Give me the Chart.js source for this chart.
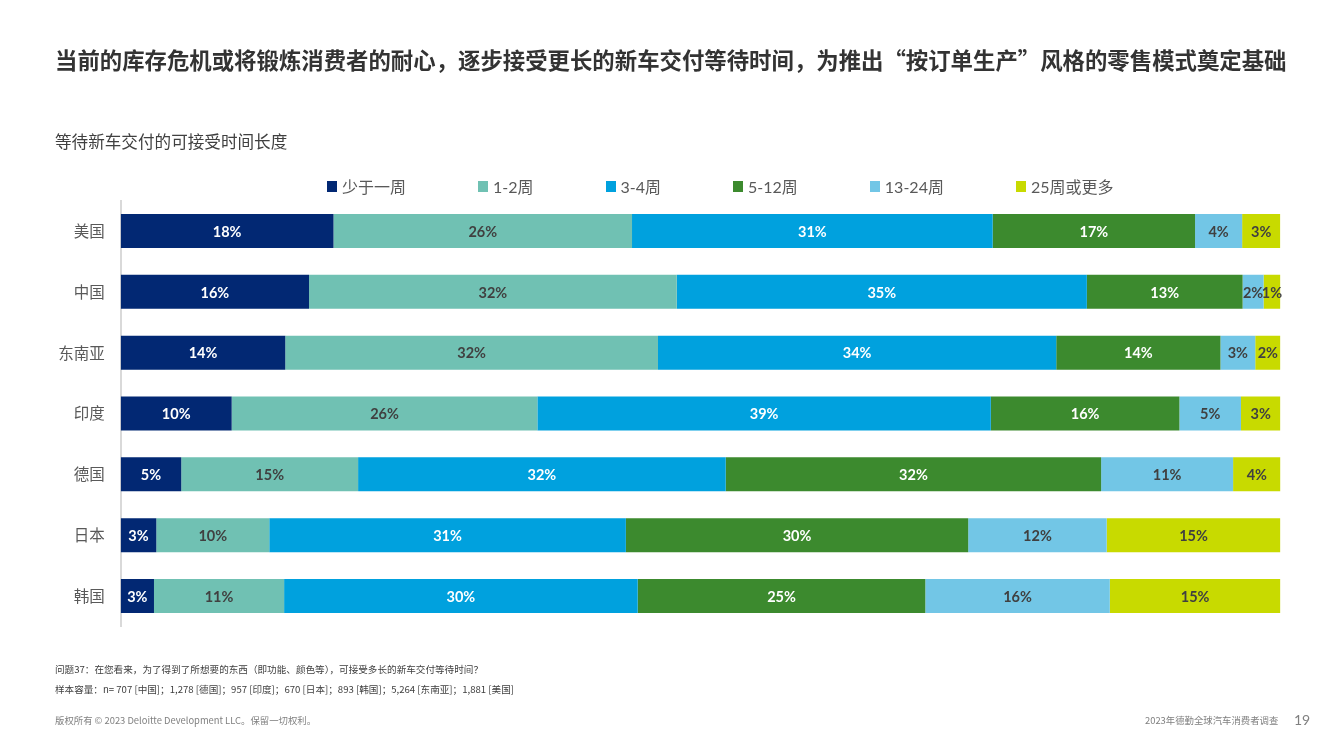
<!DOCTYPE html>
<html lang="zh-CN">
<head>
<meta charset="utf-8">
<script src="https://cdn.jsdelivr.net/npm/chart.js@4/dist/chart.umd.min.js"></script>
<style>
body{margin:0;background:#fff;font-family:"Noto Sans CJK SC",sans-serif}
#page{position:relative;width:1343px;height:750px;overflow:hidden}
#wrap{position:absolute;left:0;top:0;width:1343px;height:750px}
.txt{position:absolute;white-space:nowrap;line-height:1}
#title{left:55px;top:48px;font-size:22.4px;font-weight:700;color:#333}
#sub{left:55px;top:133px;font-size:16.6px;color:#404040}
#legend{position:absolute;left:327px;top:174px;display:flex;gap:72px}
.li{display:flex;align-items:center;font-family:Lato,"Noto Sans CJK SC",sans-serif;font-size:16px;color:#595959}
.li span{display:inline-block;width:10px;height:11px;margin-right:5px}
.note{left:55px;font-size:9.6px;color:#404040}
.foot{font-size:9.4px;color:#808080}
</style>
</head>
<body>
<div id="page">
<div id="wrap"><canvas id="chart"></canvas></div>
<div class="txt" id="title">当前的库存危机或将锻炼消费者的耐心，逐步接受更长的新车交付等待时间，为推出“按订单生产”风格的零售模式奠定基础</div>
<div class="txt" id="sub">等待新车交付的可接受时间长度</div>
<div id="legend"></div>
<div class="txt note" style="top:665px">问题37：在您看来，为了得到了所想要的东西（即功能、颜色等），可接受多长的新车交付等待时间？</div>
<div class="txt note" style="top:685px">样本容量：n= 707 [中国]；1,278 [德国]；957 [印度]；670 [日本]；893 [韩国]；5,264 [东南亚]；1,881 [美国]</div>
<div class="txt foot" style="left:55px;top:716px">版权所有 © 2023 Deloitte Development LLC。保留一切权利。</div>
<div class="txt foot" style="left:1145px;top:716px">2023年德勤全球汽车消费者调查</div>
<div class="txt" style="left:1294px;top:713px;font-size:14px;color:#808080;font-family:Lato,sans-serif">19</div>
</div>
<script>
const countries=["美国","中国","东南亚","印度","德国","日本","韩国"]
const seriesNames=["少于一周","1-2周","3-4周","5-12周","13-24周","25周或更多"]
const seriesColors=["#022873","#70C1B3","#00A1DE","#3C8A2E","#72C6E6","#C8DA00"]
const labelColors=["#fff","#404040","#fff","#fff","#404040","#404040"]

// share of respondents, %, per country (same order as countries)
const lessThanWeek=[18.35,16.24,14.19,9.57,5.22,3.07,2.87]
const oneToTwo=[25.74,31.71,32.14,26.36,15.25,9.74,11.22]
const threeToFour=[31.10,35.36,34.34,39.10,31.70,30.75,30.49]
const fiveToTwelve=[17.45,13.43,14.16,16.26,32.37,29.52,24.80]
const thirteenToTwentyFour=[4.06,1.81,3.00,5.31,11.38,11.94,15.91]
const twentyFiveUp=[3.29,1.45,2.17,3.40,4.09,14.98,14.71]

const allSeries=[lessThanWeek,oneToTwo,threeToFour,fiveToTwelve,thirteenToTwentyFour,twentyFiveUp]

/* LEGEND */

const legend=document.getElementById("legend")
seriesNames.forEach((n,i)=>{
const d=document.createElement("div")
d.className="li"
d.innerHTML=`<span style="background:${seriesColors[i]}"></span>${n}`
legend.appendChild(d)
})

/* VALUE LABELS */

const barLabels={
id:"barLabels",
afterDatasetsDraw(chart){
const c=chart.ctx
c.save()
c.font="bold 14.5px Lato"
c.textAlign="center"
c.textBaseline="middle"
chart.data.datasets.forEach((ds,i)=>{
chart.getDatasetMeta(i).data.forEach((bar,j)=>{
c.fillStyle=labelColors[i]
c.fillText(Math.round(ds.data[j])+"%",(bar.x+bar.base)/2,bar.y+1)
})
})
c.restore()
}
}

/* CHART */

new Chart(document.getElementById("chart"),{
type:"bar",
data:{
labels:countries,
datasets:allSeries.map((s,i)=>({
label:seriesNames[i],
data:s,
backgroundColor:seriesColors[i],
borderWidth:0,
barPercentage:0.56,
categoryPercentage:1
}))
},
options:{
indexAxis:"y",
responsive:true,
maintainAspectRatio:false,
animation:false,
layout:{padding:{left:0,right:62.6,top:200.6,bottom:123.6}},
plugins:{legend:{display:false},tooltip:{enabled:false}},
scales:{
x:{stacked:true,min:0,max:100,display:false},
y:{
stacked:true,
grid:{display:false,drawTicks:false},
border:{display:true,color:"#d9d9d9",width:2},
ticks:{padding:16,color:"#595959",font:{family:"Noto Sans CJK SC",size:15.5}},
afterFit(scale){scale.width=120.7}
}
}
},
plugins:[barLabels]
})
</script>
</body>
</html>
